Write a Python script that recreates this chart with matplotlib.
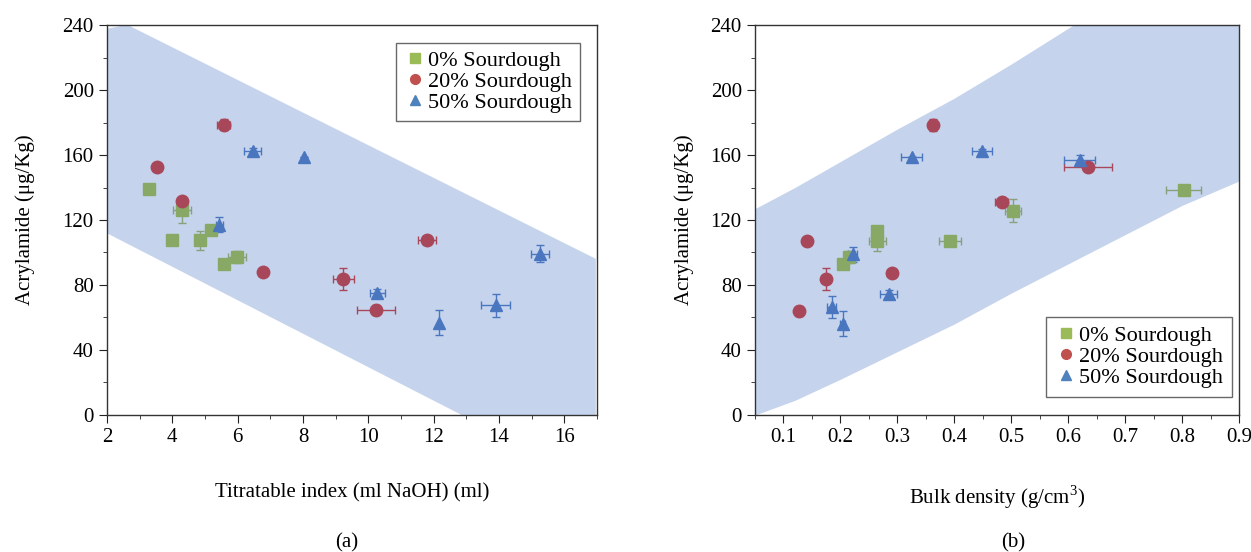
import matplotlib
matplotlib.use("Agg")
import matplotlib.pyplot as plt
from matplotlib.ticker import MultipleLocator
from matplotlib.lines import Line2D

plt.rcParams['font.family'] = ['Liberation Serif', 'DejaVu Serif']
plt.rcParams['mathtext.fontset'] = 'custom'
plt.rcParams['mathtext.rm'] = 'Liberation Serif'

# ---- panel (a): titratable index ----
green_ti = [3.28, 4.29, 5.19, 3.98, 4.86, 5.99, 5.59]
green_ti_err = [0, 0.28, 0, 0, 0, 0.27, 0]
green_acr = [138.9, 126.3, 114.0, 107.4, 107.4, 97.2, 93.1]
green_acr_err = [0, 7.9, 0, 0, 6.1, 3.8, 0]

red_ti = [5.57, 3.52, 4.29, 6.77, 9.24, 11.79, 10.24]
red_ti_err = [0.21, 0, 0, 0, 0.33, 0.27, 0.58]
red_acr = [178.6, 152.8, 131.5, 88.0, 83.9, 107.4, 64.9]
red_acr_err = [3.5, 0, 0, 0, 6.8, 0, 3]

blue_ti = [6.46, 8.04, 5.44, 15.25, 10.28, 12.17, 13.9]
blue_ti_err = [0.27, 0, 0.1, 0.27, 0.23, 0, 0.45]
blue_acr = [162.7, 159.0, 117.2, 99.2, 75.3, 56.9, 67.5]
blue_acr_err = [1.5, 0, 4.6, 5.3, 2, 7.8, 7]

band_a_x = [2.0, 2.6, 16.95]
band_a_upper = [238, 240.5, 96.4]
band_a_lower = [112, 105.8, -42]

# ---- panel (b): bulk density ----
green_bd = [0.803, 0.503, 0.265, 0.265, 0.393, 0.215, 0.205]
green_bd_err = [0.031, 0.014, 0, 0.015, 0.019, 0.008, 0]
green_acr_b = [138.5, 125.8, 113.2, 107.2, 107.2, 97.2, 93.1]
green_acr_b_err = [0, 7, 0, 6.1, 0, 3.8, 0]

red_bd = [0.362, 0.635, 0.483, 0.142, 0.29, 0.174, 0.127]
red_bd_err = [0, 0.042, 0.012, 0, 0.008, 0, 0.006]
red_acr_b = [178.4, 152.4, 131.0, 107.0, 87.6, 83.5, 64.0]
red_acr_b_err = [3.5, 0, 0, 0, 0, 6.8, 3]

blue_bd = [0.325, 0.449, 0.62, 0.222, 0.285, 0.185, 0.204]
blue_bd_err = [0.019, 0.018, 0.028, 0.008, 0.015, 0.008, 0.004]
blue_acr_b = [158.6, 162.2, 157.2, 98.8, 74.7, 66.5, 56.3]
blue_acr_b_err = [0, 1.5, 3, 4.5, 2, 7, 7.8]

band_b_x = [0.05, 0.12, 0.2, 0.3, 0.4, 0.5, 0.6, 0.7, 0.8, 0.9]
band_b_upper = [127, 140, 156, 176, 195, 216, 238, 260, 282, 304]
band_b_lower = [0, 9, 22, 39, 56, 75, 93, 111, 129, 144]

labels = ['0% Sourdough', '20% Sourdough', '50% Sourdough']
BAND = '#c5d4ec'
FS = 15
series_style = [
    ('s', '#88a965', '#88a07c', '#9bbb59', 8),
    ('o', '#a9475a', '#a9475a', '#c0504d', 9),
    ('^', '#4a76c0', '#4a76c0', '#4f81bd', 9),
]


def style_axes(ax, pad):
    ax.set_ylim(0, 240)
    ax.yaxis.set_major_locator(MultipleLocator(40))
    ax.yaxis.set_minor_locator(MultipleLocator(20))
    ax.tick_params(which='both', direction='out', top=False, right=False,
                   labelsize=FS, color='#222222')
    ax.tick_params(which='major', length=6)
    ax.tick_params(which='minor', length=3)
    for s in ax.spines.values():
        s.set_color('#333333')
        s.set_linewidth(1.0)
    ax.set_ylabel('Acrylamide (μg/Kg)', fontsize=FS, labelpad=pad)


def add_legend(ax, loc, anchor, pad):
    handles = [Line2D([], [], marker=m, color=lc, linestyle='none', markersize=7)
               for m, _, _, lc, _ in series_style]
    leg = ax.legend(handles, labels, loc=loc, bbox_to_anchor=anchor, fontsize=16,
                    frameon=True, fancybox=False, handletextpad=0.1,
                    handlelength=1.0, borderpad=pad, labelspacing=0.02,
                    borderaxespad=0)
    leg.get_frame().set_edgecolor('#444444')
    leg.get_frame().set_linewidth(1.0)


fig = plt.figure(figsize=(12.51, 5.52), dpi=100)
ax1 = fig.add_axes([0.0855, 0.2482, 0.3917, 0.7065])
ax2 = fig.add_axes([0.6035, 0.2482, 0.3869, 0.7065])

# panel (a)
ax1.fill_between(band_a_x, band_a_lower, band_a_upper, color=BAND, lw=0, zorder=0)
panel_a = [(green_ti, green_acr, green_ti_err, green_acr_err),
           (red_ti, red_acr, red_ti_err, red_acr_err),
           (blue_ti, blue_acr, blue_ti_err, blue_acr_err)]
for (x, y, xe, ye), (m, fc, ec, _, ms) in zip(panel_a, series_style):
    ax1.errorbar(x, y, xerr=xe, yerr=ye, fmt=m, color=fc, ecolor=ec,
                 markersize=ms, elinewidth=1.0, capsize=3, capthick=1.0, zorder=3)
ax1.set_xlim(2, 17)
ax1.xaxis.set_major_locator(MultipleLocator(2))
ax1.xaxis.set_minor_locator(MultipleLocator(1))
style_axes(ax1, 20)
ax1.set_xlabel('Titratable index (ml NaOH) (ml)', fontsize=FS, labelpad=26)
add_legend(ax1, 'upper right', (0.965, 0.955), 0.35)

# panel (b)
ax2.fill_between(band_b_x, band_b_lower, band_b_upper, color=BAND, lw=0, zorder=0)
panel_b = [(green_bd, green_acr_b, green_bd_err, green_acr_b_err),
           (red_bd, red_acr_b, red_bd_err, red_acr_b_err),
           (blue_bd, blue_acr_b, blue_bd_err, blue_acr_b_err)]
for (x, y, xe, ye), (m, fc, ec, _, ms) in zip(panel_b, series_style):
    ax2.errorbar(x, y, xerr=xe, yerr=ye, fmt=m, color=fc, ecolor=ec,
                 markersize=ms, elinewidth=1.0, capsize=3, capthick=1.0, zorder=3)
ax2.set_xlim(0.05, 0.9)
ax2.xaxis.set_major_locator(MultipleLocator(0.1))
ax2.xaxis.set_minor_locator(MultipleLocator(0.05))
style_axes(ax2, 12)
ax2.set_xlabel('Bulk density (g/cm$^3$)', fontsize=FS, labelpad=26)
add_legend(ax2, 'lower right', (0.9855, 0.046), 0.4)

fig.text(0.277, 0.0163, '(a)', fontsize=FS, ha='center', va='center')
fig.text(0.81, 0.0163, '(b)', fontsize=FS, ha='center', va='center')

fig.savefig('out.png', dpi=100)
